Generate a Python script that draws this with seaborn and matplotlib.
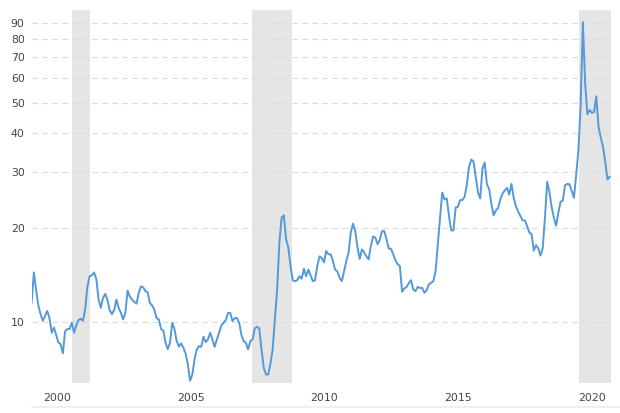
import numpy as np
import pandas as pd
import matplotlib
matplotlib.use("Agg")
import matplotlib.pyplot as plt
import matplotlib.ticker as mticker
from matplotlib.lines import Line2D
import seaborn as sns

# ---- data (monthly observations, fractional year axis) ----
start_year = 1999.065
values = [
    11.5, 14.4, 12.7, 11.3, 10.6, 10.1, 10.45, 10.85, 10.3, 9.25, 9.6, 9.1,
    8.6, 8.5, 7.95, 9.35, 9.5, 9.5, 9.95, 9.25, 9.75, 10.15, 10.25, 10.1,
    11.0, 13.0, 14.0, 14.1, 14.4, 13.7, 11.8, 11.1, 11.95, 12.3, 11.75, 10.9,
    10.6, 10.95, 11.8, 11.1, 10.7, 10.2, 10.7, 12.6, 12.05, 11.8, 11.6, 11.45,
    12.4, 13.0, 12.9, 12.55, 12.45, 11.5, 11.3, 10.95, 10.3, 10.2, 9.5, 9.4,
    8.6, 8.2, 8.6, 9.95, 9.5, 8.7, 8.35, 8.55, 8.28, 7.94, 7.33, 6.5,
    6.8, 7.6, 8.18, 8.38, 8.34, 8.98, 8.63, 8.8, 9.25, 8.8, 8.34, 8.8,
    9.25, 9.76, 9.95, 10.15, 10.7, 10.7, 10.07, 10.3, 10.3, 9.95, 9.1, 8.7,
    8.59, 8.18, 8.7, 8.8, 9.55, 9.66, 9.55, 8.18, 7.15, 6.81, 6.8, 7.36,
    8.18, 10.2, 12.7, 17.9, 21.5, 21.9, 18.4, 17.3, 15.1, 13.6, 13.5, 13.6,
    14.0, 13.75, 14.8, 14.0, 14.7, 14.1, 13.5, 13.6, 15.1, 16.2, 16.0, 15.5,
    16.85, 16.45, 16.45, 15.66, 14.7, 14.5, 13.85, 13.5, 14.55, 15.65, 16.65, 19.3,
    20.6, 19.5, 17.35, 15.9, 17.05, 16.7, 16.2, 15.85, 17.5, 18.75, 18.6, 17.7,
    18.3, 19.5, 19.5, 18.4, 17.15, 17.15, 16.45, 15.75, 15.3, 15.1, 12.5, 12.8,
    12.95, 13.3, 13.6, 12.7, 12.55, 12.95, 12.85, 12.85, 12.4, 12.65, 13.2, 13.35,
    13.5, 14.55, 17.7, 21.5, 25.9, 24.6, 24.8, 21.8, 19.6, 19.6, 23.2, 23.3,
    24.5, 24.5, 25.1, 27.4, 31.3, 33.0, 32.5, 29.0, 25.9, 24.8, 30.9, 32.3,
    27.5, 26.6, 23.8, 21.9, 22.7, 23.1, 24.6, 25.7, 26.3, 26.8, 25.5, 27.6,
    24.9, 23.4, 22.5, 21.8, 21.1, 21.1, 20.25, 19.3, 19.1, 16.9, 17.6, 17.2,
    16.3, 17.2, 21.5, 28.0, 26.0, 23.3, 21.5, 20.3, 22.3, 24.2, 24.4, 27.3,
    27.6, 27.5, 26.2, 24.9, 29.5, 35.5, 49.0, 90.5, 58.0, 46.0, 47.5, 46.5,
    46.8, 52.5, 42.0, 38.8, 36.3, 32.5, 28.5, 29.1,
]
years = start_year + np.arange(len(values)) / 12.0

recession_start = [2000.57, 2007.30, 2019.49]
recession_end = [2001.23, 2008.79, 2020.71]

y_ticks = [10, 20, 30, 40, 50, 60, 70, 80, 90]
x_ticks = [2000, 2005, 2010, 2015, 2020]

df = pd.DataFrame({"year": years, "value": values})

# ---- plot ----
sns.set_style("white")
plt.rcParams["font.family"] = ["DejaVu Sans"]

fig = plt.figure(figsize=(6.2, 4.13), dpi=100)
ax = fig.add_axes([0.051, 0.073, 0.935, 0.903])

for s, e in zip(recession_start, recession_end):
    ax.axvspan(s, e, color="#e5e5e5", lw=0, zorder=0.5)

sns.lineplot(data=df, x="year", y="value", ax=ax, color="#5599d9",
             linewidth=1.4, zorder=3)

ax.set_yscale("log")
ax.set_ylim(6.4, 99)
ax.set_xlim(years[0], recession_end[-1])

ax.yaxis.set_major_locator(mticker.FixedLocator(y_ticks))
ax.yaxis.set_major_formatter(mticker.FixedFormatter([str(t) for t in y_ticks]))
ax.yaxis.set_minor_locator(mticker.NullLocator())
ax.xaxis.set_major_locator(mticker.FixedLocator(x_ticks))
ax.xaxis.set_major_formatter(mticker.FixedFormatter([str(t) for t in x_ticks]))

ax.set_axisbelow("line")
ax.grid(axis="y", color="#dadada", linestyle=(0, (5, 4)), linewidth=0.8)
ax.grid(axis="x", visible=False)

ax.set_xlabel("")
ax.set_ylabel("")
for sp in ax.spines.values():
    sp.set_visible(False)

ax.tick_params(axis="both", length=0, labelsize=7.8, colors="#444444")
ax.tick_params(axis="y", pad=5)
ax.tick_params(axis="x", pad=7)

fig.add_artist(Line2D([0.051, 1.0], [1 - 407 / 413, 1 - 407 / 413],
                      transform=fig.transFigure, color="#f0f0f0", lw=1.5))

fig.savefig("out.png", dpi=100)
